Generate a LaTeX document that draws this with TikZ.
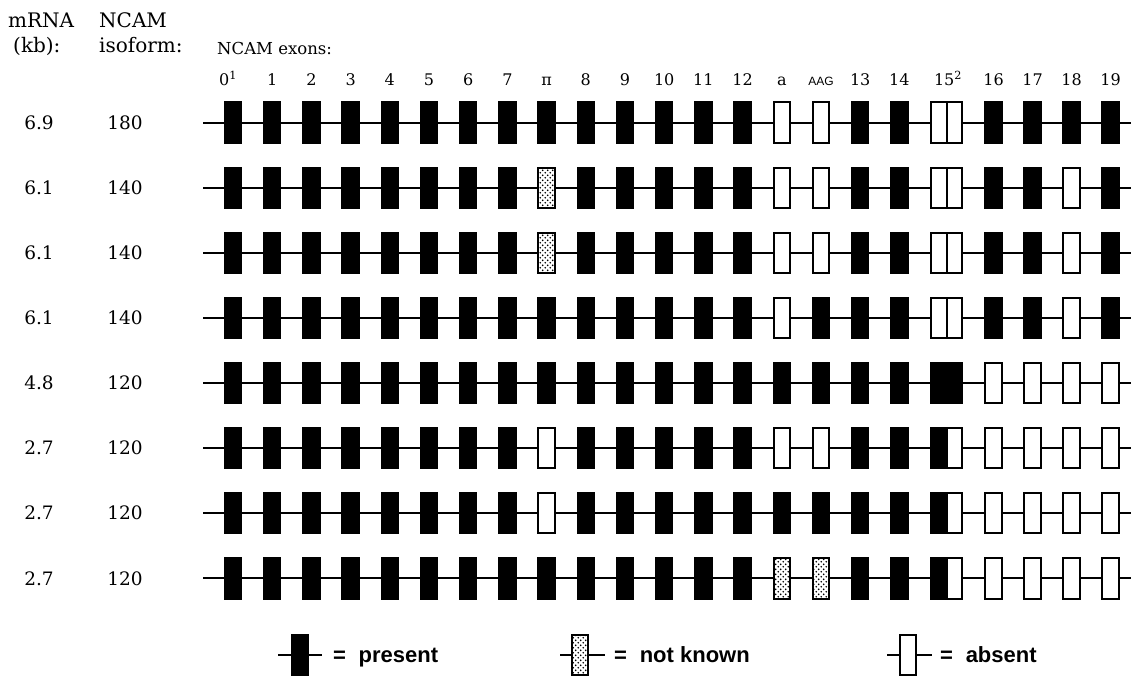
\RequirePackage{fix-cm}
\documentclass[tikz,border=0pt]{standalone}
\usepackage{fontspec}
\setmainfont{DejaVu Serif}
\newfontfamily\legfont{Liberation Sans}
\usetikzlibrary{patterns}
\pgfdeclarepatternformonly{ncamdots}{\pgfqpoint{0pt}{0pt}}{\pgfqpoint{5.4pt}{5.4pt}}{\pgfqpoint{5.4pt}{5.4pt}}{%
  \pgfpathcircle{\pgfqpoint{1.35pt}{1.35pt}}{1.05pt}%
  \pgfpathcircle{\pgfqpoint{4.05pt}{4.05pt}}{1.05pt}%
  \pgfusepath{fill}}
\tikzset{
  exon/.style={draw, line width=2pt, minimum width=16.5pt, minimum height=40.5pt, inner sep=0pt},
  F/.style={exon, fill=black},
  A/.style={exon, fill=white},
  D/.style={exon, pattern=ncamdots},
  intron/.style={line width=2pt},
  hdr/.style={anchor=base west, inner sep=0pt, font=\fontsize{20}{24}\selectfont},
  rowlbl/.style={inner sep=0pt, font=\fontsize{18.5}{22}\selectfont},
  exlbl/.style={anchor=base, inner sep=0pt, font=\fontsize{16}{19}\selectfont},
  leg/.style={anchor=base west, inner sep=0pt, font=\legfont\bfseries\fontsize{22}{25}\selectfont},
}
\begin{document}
\begin{tikzpicture}[x=1pt,y=-1pt]
\useasboundingbox (0,0) rectangle (1134,678);
% headers
\node[hdr] (h1) at (8,27) {mRNA};
\node[hdr] (h2) at (13,52) {(kb):};
\node[hdr] (h3) at (99,27) {NCAM};
\node[hdr] (h4) at (99,52) {isoform:};
\node[hdr, font=\fontsize{16.5}{20}\selectfont] (h5) at (217,54) {NCAM exons:};
% exon labels
\foreach \t/\x [count=\k] in {0\textsuperscript{1}/228,1/272.2,2/311.4,3/350.6,4/389.8,5/429,6/468.2,7/507.4,π/546.6,8/585.8,9/625,10/664.2,11/703.4,12/742.6,a/781.8,{{\legfont\fontsize{12}{14}\selectfont AAG}}/821,13/860.2,14/899.4,15\textsuperscript{2}/948,16/993.5,17/1032.5,18/1071.5,19/1110.5}
  \node[exlbl] (ex\k) at (\x,85) {\t};
\def\xpos{{233,272.2,311.4,350.6,389.8,429,468.2,507.4,546.6,585.8,625,664.2,703.4,742.6,781.8,821,860.2,899.4,938.8,954.5,993.5,1032.5,1071.5,1110.5}}
% rows
\foreach \r/\yy/\kb/\iso/\pat in {
  1/122.7/6.9/180/{F,F,F,F,F,F,F,F,F,F,F,F,F,F,A,A,F,F,A,A,F,F,F,F},
  2/187.8/6.1/140/{F,F,F,F,F,F,F,F,D,F,F,F,F,F,A,A,F,F,A,A,F,F,A,F},
  3/252.9/6.1/140/{F,F,F,F,F,F,F,F,D,F,F,F,F,F,A,A,F,F,A,A,F,F,A,F},
  4/317.9/6.1/140/{F,F,F,F,F,F,F,F,F,F,F,F,F,F,A,F,F,F,A,A,F,F,A,F},
  5/383.0/4.8/120/{F,F,F,F,F,F,F,F,F,F,F,F,F,F,F,F,F,F,F,F,A,A,A,A},
  6/448.1/2.7/120/{F,F,F,F,F,F,F,F,A,F,F,F,F,F,A,A,F,F,F,A,A,A,A,A},
  7/513.2/2.7/120/{F,F,F,F,F,F,F,F,A,F,F,F,F,F,F,F,F,F,F,A,A,A,A,A},
  8/578.3/2.7/120/{F,F,F,F,F,F,F,F,F,F,F,F,F,F,D,D,F,F,F,A,A,A,A,A}}{
  \node[rowlbl] (kb\r) at (39,\yy) {\kb};
  \node[rowlbl] (iso\r) at (125,\yy) {\iso};
  \coordinate (r\r-s) at (203,\yy);
  \coordinate (r\r-e) at (1131,\yy);
  \foreach \c [count=\i from 0] in \pat {
    \pgfmathsetmacro\xx{\xpos[\i]}
    \pgfmathsetmacro\ww{(\i==18||\i==19)?15.7:16.5}
    \node[\c, minimum width=\ww pt] (r\r-\i) at (\xx,\yy) {};
  }
  \draw[intron] (r\r-s) -- (r\r-0);
  \foreach \i [evaluate=\i as \j using int(\i+1)] in {0,...,22}{
    \ifnum\i=18 \else \draw[intron] (r\r-\i) -- (r\r-\j); \fi
  }
  \draw[intron] (r\r-23) -- (r\r-e);
}
% legend
\node[F] (legP) at (300,655) {};
\coordinate (legPa) at (278,655); \coordinate (legPb) at (322,655);
\draw[intron] (legPa) -- (legP); \draw[intron] (legP) -- (legPb);
\node[leg] (legPt) at (333,662) {=\hspace{0.3em} present};
\node[D] (legD) at (580,655) {};
\coordinate (legDa) at (560,655); \coordinate (legDb) at (605,655);
\draw[intron] (legDa) -- (legD); \draw[intron] (legD) -- (legDb);
\node[leg] (legDt) at (614,662) {=\hspace{0.3em} not known};
\node[A] (legA) at (908,655) {};
\coordinate (legAa) at (887,655); \coordinate (legAb) at (932,655);
\draw[intron] (legAa) -- (legA); \draw[intron] (legA) -- (legAb);
\node[leg] (legAt) at (940,662) {=\hspace{0.3em} absent};
\end{tikzpicture}
\end{document}
